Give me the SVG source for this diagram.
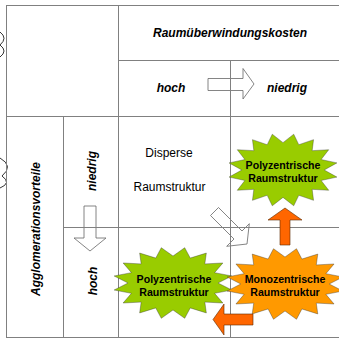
<svg xmlns="http://www.w3.org/2000/svg" xmlns:xlink="http://www.w3.org/1999/xlink" width="339" height="340" viewBox="0 0 339 340">
<style>
.grid{stroke:#808080;stroke-width:1;fill:none}
.t{font-family:"Liberation Sans",Arial,sans-serif;fill:#000}
.hdr{font-size:12px;font-weight:bold;font-style:italic}
.plain{font-size:12px}
.st{font-size:10.6px;font-weight:bold}
.warrow{fill:#fff;stroke:#666;stroke-width:0.8}
.oarrow{fill:#ff6600;stroke:#5a2a00;stroke-width:0.6}
.star{stroke:#333;stroke-width:0.8;vector-effect:non-scaling-stroke}
.green{fill:#99cc00}
.orange{fill:#ff9900}
</style>
<defs>
<polygon id="star16" points="75,0 98.08,19.51 69.29,28.70 83.15,55.56 53.03,53.03 55.56,83.15 28.70,69.29 19.51,98.08 0,75 -19.51,98.08 -28.70,69.29 -55.56,83.15 -53.03,53.03 -83.15,55.56 -69.29,28.70 -98.08,19.51 -75,0 -98.08,-19.51 -69.29,-28.70 -83.15,-55.56 -53.03,-53.03 -55.56,-83.15 -28.70,-69.29 -19.51,-98.08 0,-75 19.51,-98.08 28.70,-69.29 55.56,-83.15 53.03,-53.03 83.15,-55.56 69.29,-28.70 98.08,-19.51"/>
</defs>
<rect width="339" height="340" fill="#fff"/>
<!-- cropped decorations at left edge -->
<path d="M0,32 Q8,38 0,45 Q8,51 0,57" fill="none" stroke="#000" stroke-width="0.8"/>
<path d="M0,158 Q14,166 2,176 Q12,183 0,188" fill="none" stroke="#000" stroke-width="0.8"/>
<g id="connectors">
<polygon class="warrow" points="208,78.5 243,78.5 243,68.5 254,84 243,99 243,90.5 208,90.5"/>
<polygon class="warrow" points="84,206 96,206 96,238 106,238 90,251 74,238 84,238"/>
<polygon class="warrow" points="218.5,207.5 242,231 249.3,223.7 247,244 226.7,246.3 234,239 210.5,215.5"/>
</g>
<g id="table">
<line class="grid" x1="6" y1="5.5" x2="339" y2="5.5"/>
<line class="grid" x1="6.5" y1="5" x2="6.5" y2="338"/>
<line class="grid" x1="118.5" y1="5" x2="118.5" y2="338"/>
<line class="grid" x1="118" y1="60.5" x2="339" y2="60.5"/>
<line class="grid" x1="6" y1="116.5" x2="339" y2="116.5"/>
<line class="grid" x1="230.5" y1="60" x2="230.5" y2="338"/>
<line class="grid" x1="63.5" y1="116" x2="63.5" y2="338"/>
<line class="grid" x1="63" y1="227.5" x2="339" y2="227.5"/>
<line class="grid" x1="6" y1="337.5" x2="339" y2="337.5"/>
</g>
<g id="labels">
<text class="t hdr" x="230" y="37" text-anchor="middle">Raumüberwindungskosten</text>
<text class="t hdr" x="171" y="92" text-anchor="middle">hoch</text>
<text class="t hdr" x="287" y="92" text-anchor="middle">niedrig</text>
<text class="t hdr" transform="translate(40,229) rotate(-90)" text-anchor="middle">Agglomerationsvorteile</text>
<text class="t hdr" transform="translate(96,171) rotate(-90)" text-anchor="middle">niedrig</text>
<text class="t hdr" transform="translate(97,281) rotate(-90)" text-anchor="middle">hoch</text>
<text class="t plain" x="169" y="157" text-anchor="middle">Disperse</text>
<text class="t plain" x="169.5" y="191" text-anchor="middle">Raumstruktur</text>
</g>
<g id="node-poly-top">
<use xlink:href="#star16" href="#star16" class="star green" transform="translate(283,170) scale(0.55,0.365)"/>
<text class="t st" x="283" y="169" text-anchor="middle">Polyzentrische</text>
<text class="t st" x="283" y="181.5" text-anchor="middle">Raumstruktur</text>
</g>
<g id="node-poly-bottom">
<use xlink:href="#star16" href="#star16" class="star green" transform="translate(173,283) scale(0.6,0.36)"/>
<text class="t st" x="174" y="283" text-anchor="middle">Polyzentrische</text>
<text class="t st" x="174" y="295.5" text-anchor="middle">Raumstruktur</text>
</g>
<g id="node-mono">
<use xlink:href="#star16" href="#star16" class="star orange" transform="translate(285,284) scale(0.59,0.36)"/>
<text class="t st" x="285" y="283" text-anchor="middle">Monozentrische</text>
<text class="t st" x="285" y="295.5" text-anchor="middle">Raumstruktur</text>
</g>
<g id="orange-connectors">
<polygon class="oarrow" points="280,245 280,220 268,220 285,208 302,220 290,220 290,245"/>
<polygon class="oarrow" points="253,314 224,314 224,304 213,319.5 224,335 224,325 253,325"/>
</g>
</svg>
